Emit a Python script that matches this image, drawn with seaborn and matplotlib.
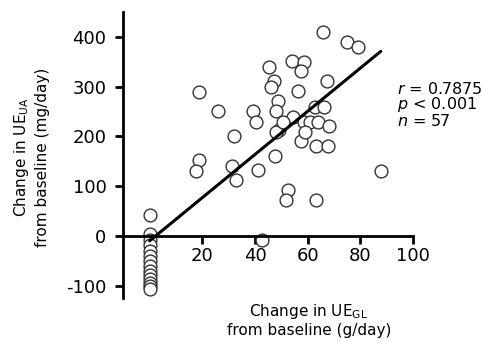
import matplotlib
matplotlib.use("Agg")
import matplotlib.pyplot as plt
import seaborn as sns
import numpy as np
import pandas as pd

# change in urinary glucose excretion (g/day) vs change in urinary uric acid excretion (mg/day)
ue_gl = [18.9, 25.8, 39.3, 40.5, 31.9, 18.6, 17.6, 31.3, 32.8, 41.1,
         45.2, 53.9, 58.4, 57.3, 47.2, 46.1, 56.4, 48.7, 48.1, 54.4,
         65.6, 74.7, 78.9, 67.3, 62.7, 66.2, 49.0, 48.1, 50.8, 57.6,
         47.4, 52.5, 51.9, 58.5, 60.8, 63.9, 68.1, 58.9, 63.0, 67.8,
         87.7, 63.0, 42.6,
         0, 0, 0, 0, 0, 0, 0, 0, 0, 0, 0, 0, 0, 0]
ue_ua = [290, 251, 251, 229, 200, 152, 131, 141, 112, 132,
         339, 351, 350, 331, 311, 300, 291, 272, 251, 240,
         410, 390, 380, 311, 259, 259, 213, 208, 230, 190,
         161, 93, 72, 229, 229, 229, 220, 209, 180, 180,
         131, 72, -8,
         42, 3, -8, -18, -30, -40, -50, -60, -70, -78, -86, -94, -100, -106]

x_ticks = [20, 40, 60, 80, 100]
y_ticks = [-100, 0, 100, 200, 300, 400]

sns.set_style("ticks")
plt.rcParams['font.family'] = ['DejaVu Sans']
plt.rcParams['axes.unicode_minus'] = False
plt.rcParams['text.color'] = 'black'

df = pd.DataFrame({'gl': ue_gl, 'ua': ue_ua})

fig = plt.figure(figsize=(4.85, 3.45), dpi=100)
ax = fig.add_axes([0.254, 0.136, 0.598, 0.829])

# scatter + least-squares line
sns.regplot(x='gl', y='ua', data=df, ci=None, ax=ax,
            scatter_kws=dict(s=85, facecolors='white', edgecolors='#333333', linewidths=1.0, alpha=1),
            line_kws=dict(color='black', lw=2.2))

ax.set_xlim(-10, 100)
ax.set_ylim(-125, 450)
ax.set_xticks(x_ticks)
ax.set_yticks(y_ticks)

ax.spines['top'].set_visible(False)
ax.spines['right'].set_visible(False)
ax.spines['bottom'].set_position(('data', 0))
for s in ['left', 'bottom']:
    ax.spines[s].set_linewidth(2.0)
    ax.spines[s].set_color('black')
ax.tick_params(axis='both', width=2.0, length=6, labelsize=13, colors='black')
ax.tick_params(axis='y', pad=6)
ax.tick_params(axis='x', pad=2)

ax.set_xlabel('')
ax.set_ylabel('')
fig.text(0.637, 0.072, 'Change in UE$_{\\mathregular{GL}}$\nfrom baseline (g/day)',
         ha='center', va='center', fontsize=11, linespacing=1.15, color='black')
fig.text(0.064, 0.545, 'Change in UE$_{\\mathregular{UA}}$\nfrom baseline (mg/day)',
         ha='center', va='center', fontsize=11, rotation=90, linespacing=1.4, color='black')

ax.text(0.945, 0.76, '$\\mathit{r}$ = 0.7875\n$\\mathit{p}$ < 0.001\n$\\mathit{n}$ = 57',
        transform=ax.transAxes, ha='left', va='top', fontsize=11.5, linespacing=0.9,
        color='black', clip_on=False)

fig.savefig('out.png', dpi=100)
